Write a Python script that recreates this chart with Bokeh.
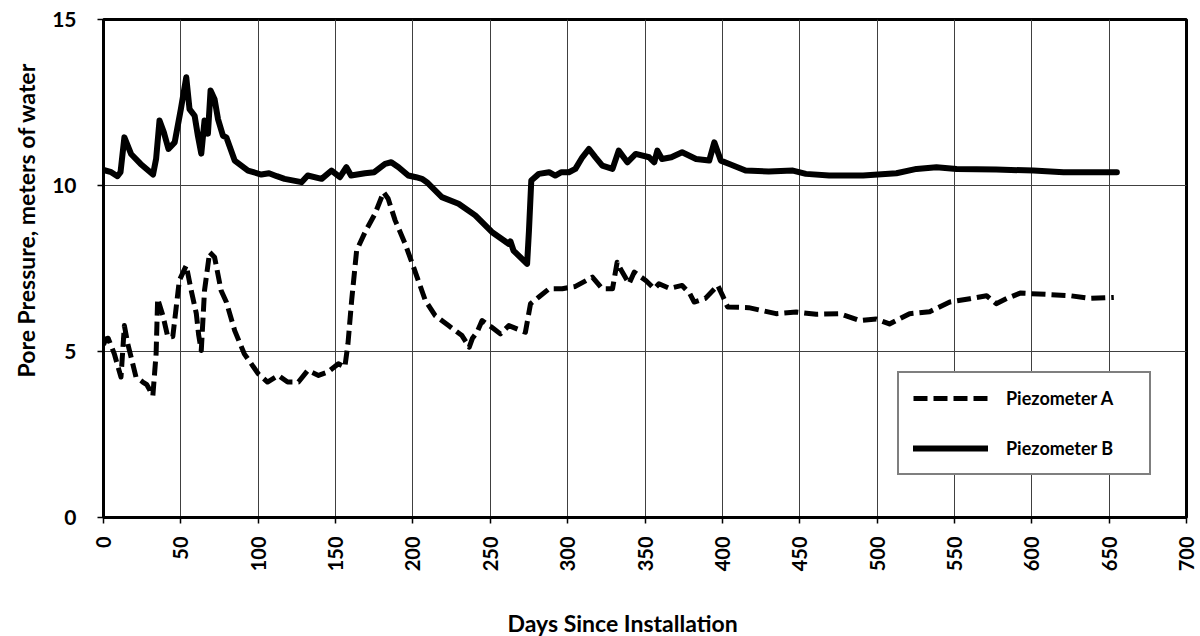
import math
from bokeh.plotting import figure
from bokeh.models import Range1d, FixedTicker, Legend, LegendItem, Title
from bokeh.embed import file_html
from bokeh.resources import INLINE

# ---- data ----
days_a = [0, 1.6, 3, 7, 9, 11.3, 13.5, 15.7, 18, 21, 25.4, 28, 31.9, 34, 35, 38.4, 41.6, 44.8,
          49, 53.5, 56.7, 60, 61.5, 63.2, 65.3, 68.6, 71.8, 76, 79.4, 84.8, 91, 100, 106, 113,
          119, 126, 132, 139, 145, 151.8, 156, 158, 160.4, 163.6, 169, 175.5, 181, 184, 188.5,
          195, 200.4, 208, 214.4, 223, 231.7, 236.4, 238.5, 241.4, 244.7, 251, 256.5, 262,
          272.7, 276, 281.4, 288, 296.5, 305, 316, 322.4, 329, 332, 334, 339.7, 343, 350.5,
          356, 359, 366, 374, 379, 381.8, 389, 397, 400, 403.4, 417, 434.7, 447.7, 460.7,
          475.8, 488.8, 499.5, 508, 521, 534, 547, 560, 570.8, 577, 584, 592.5, 609.7, 625,
          638, 653]
piezo_a = [5.2, 5.38, 5.4, 4.93, 4.6, 4.23, 5.78, 5.23, 4.8, 4.23, 4.08, 4.0, 3.67, 4.93, 6.59,
           6.08, 5.43, 5.45, 7.14, 7.59, 6.84, 6.14, 5.5, 5.03, 6.84, 7.99, 7.84, 6.84, 6.49,
           5.63, 4.93, 4.33, 4.08, 4.28, 4.08, 4.08, 4.43, 4.28, 4.38, 4.63, 4.53, 5.23, 6.54,
           8.04, 8.59, 9.15, 9.8, 9.6, 8.95, 8.24, 7.54, 6.54, 6.08, 5.78, 5.48, 5.13, 5.4,
           5.58, 5.93, 5.73, 5.53, 5.78, 5.58, 6.44, 6.64, 6.89, 6.89, 6.96, 7.24, 6.89, 6.89,
           7.69, 7.5, 7.04, 7.39, 7.14, 6.89, 7.04, 6.9, 6.99, 6.74, 6.49, 6.6, 6.99, 6.7,
           6.34, 6.32, 6.14, 6.19, 6.12, 6.14, 5.93, 5.98, 5.83, 6.14, 6.2, 6.49, 6.59, 6.68,
           6.44, 6.6, 6.76, 6.72, 6.68, 6.6, 6.63]

days_b = [0, 5, 9, 11, 13.5, 17.8, 24, 32, 34, 36.2, 39, 42, 46, 50, 53.5, 55.6, 58.9, 61,
          63.2, 65.3, 67.5, 69.2, 71.8, 74, 77.2, 79.4, 84.8, 93.4, 102, 107, 112, 117, 128,
          132, 141, 147.4, 152.8, 157, 160, 169, 175, 182, 186, 190.7, 197, 202, 205.8, 209,
          218.7, 229.5, 240.3, 251, 262, 263, 265, 273.8, 275, 276.5, 281.4, 288, 292, 296,
          300.8, 305, 309.5, 313.8, 318, 322.4, 329, 333, 338.6, 344, 352.7, 356, 358, 361,
          367, 374, 383, 391.5, 394.8, 399, 404.5, 415, 430, 445.6, 454, 469, 491, 512.5,
          525.5, 538.4, 551.4, 577, 601, 620.5, 653, 655]
piezo_b = [10.47, 10.4, 10.28, 10.4, 11.45, 10.95, 10.65, 10.33, 10.8, 11.96, 11.6, 11.1, 11.3,
           12.3, 13.26, 12.3, 12.1, 11.5, 10.96, 11.96, 11.56, 12.86, 12.6, 12.0, 11.5, 11.45,
           10.75, 10.45, 10.33, 10.37, 10.28, 10.2, 10.1, 10.3, 10.2, 10.45, 10.25, 10.55,
           10.3, 10.37, 10.4, 10.65, 10.7, 10.55, 10.3, 10.25, 10.2, 10.1, 9.65, 9.45, 9.1,
           8.6, 8.24, 8.32, 8.04, 7.64, 8.64, 10.15, 10.35, 10.4, 10.3, 10.4, 10.4, 10.5,
           10.85, 11.1, 10.85, 10.6, 10.5, 11.05, 10.7, 10.95, 10.85, 10.7, 11.05, 10.8,
           10.85, 11.0, 10.8, 10.75, 11.3, 10.75, 10.65, 10.45, 10.42, 10.45, 10.35, 10.3,
           10.3, 10.37, 10.5, 10.55, 10.5, 10.48, 10.45, 10.4, 10.4, 10.4]

x_ticks = list(range(0, 701, 50))
y_ticks = [0, 5, 10, 15]
label_a = "Piezometer A"
label_b = "Piezometer B"
x_title = "Days Since Installation"
y_title = "Pore Pressure, meters of water"

FONT = "Lato"

p = figure(width=1198, height=636, output_backend="svg", toolbar_location=None,
           x_range=Range1d(0, 700), y_range=Range1d(0, 15),
           min_border_left=103, min_border_right=12, min_border_top=19, min_border_bottom=119)
p.background_fill_color = "white"
p.border_fill_color = "white"
p.outline_line_color = "black"
p.outline_line_width = 3

# grid
for g in (p.xgrid, p.ygrid):
    g.grid_line_color = "#404040"
    g.grid_line_width = 1
p.xaxis.ticker = FixedTicker(ticks=x_ticks)
p.yaxis.ticker = FixedTicker(ticks=y_ticks)

for ax in (p.xaxis, p.yaxis):
    ax.axis_line_color = "black"
    ax.axis_line_width = 3
    ax.major_tick_line_color = "black"
    ax.major_tick_line_width = 1.5
    ax.major_tick_out = 6
    ax.major_tick_in = 0
    ax.minor_tick_line_color = None
    ax.major_label_text_font = FONT
    ax.major_label_text_font_style = "bold"
    ax.major_label_text_color = "black"

p.xaxis.major_label_text_font_size = "20px"
p.xaxis.major_label_orientation = math.pi / 2
p.xaxis.major_label_standoff = 13
p.yaxis.major_label_text_font_size = "21px"
p.yaxis.major_label_standoff = 21

# spacer between the x tick labels and the x title
p.xaxis.axis_label = "\u00a0"
p.xaxis.axis_label_text_font_size = "2px"
p.xaxis.axis_label_standoff = 27

ra = p.line(days_a, piezo_a, line_color="black", line_width=5, line_dash="14 6",
            line_join="round")
rb = p.line(days_b, piezo_b, line_color="black", line_width=6, line_join="round",
            line_cap="round")

legend = Legend(items=[LegendItem(label=label_a, renderers=[ra]),
                       LegendItem(label=label_b, renderers=[rb])],
                location=(794, 42), orientation="vertical")
legend.padding = 14
legend.margin = 0
legend.spacing = 28
legend.glyph_width = 75
legend.glyph_height = 20
legend.label_height = 20
legend.label_width = 129
legend.label_standoff = 18
legend.label_text_font = FONT
legend.label_text_font_style = "bold"
legend.label_text_font_size = "18px"
legend.label_text_color = "black"
legend.border_line_color = "black"
legend.border_line_width = 2
legend.background_fill_color = "white"
legend.background_fill_alpha = 1
p.add_layout(legend, "center")

yt = Title(text=y_title, align="left", offset=140, text_font=FONT,
           text_font_style="bold", text_font_size="23px", text_color="black", standoff=19)
p.add_layout(yt, "left")
xt = Title(text=x_title, align="left", offset=404, text_font=FONT,
           text_font_style="bold", text_font_size="23px", text_color="black", standoff=0)
p.add_layout(xt, "below")

open("out.html", "w").write(file_html(p, INLINE))
